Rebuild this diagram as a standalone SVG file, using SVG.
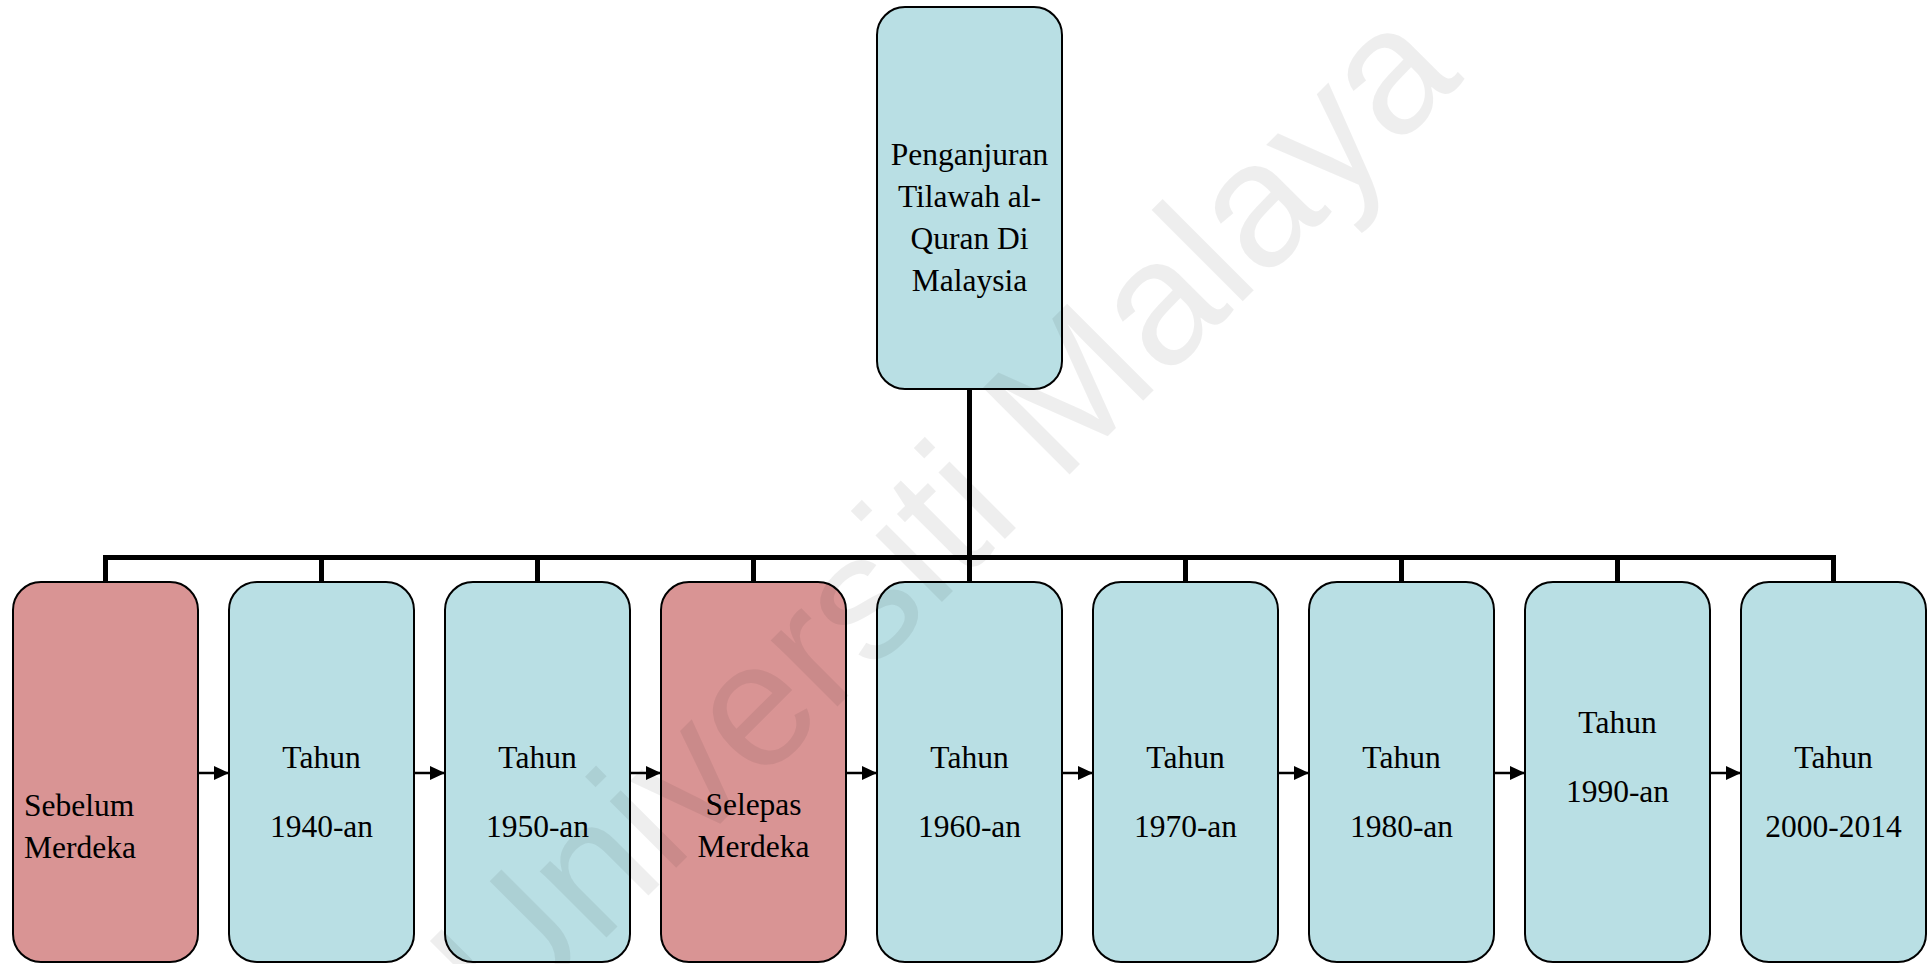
<svg xmlns="http://www.w3.org/2000/svg" width="1932" height="964" viewBox="0 0 1932 964">
<style>
.box{stroke:#000;stroke-width:2}
.blue{fill:#B9DFE4}
.pink{fill:#D99494}
.conn{fill:none;stroke:#000;stroke-width:5;stroke-linejoin:miter;stroke-linecap:butt}
.arr{fill:none;stroke:#000;stroke-width:2.5}
</style>
<defs>
<marker id="ah" viewBox="0 0 15 14" refX="15" refY="7" markerWidth="15" markerHeight="14" markerUnits="userSpaceOnUse" orient="auto">
<path d="M0,0 L15,7 L0,14 Z" fill="#000"/>
</marker>
</defs>
<rect width="1932" height="964" fill="#fff"/>
<g id="connectors">
<path class="conn" d="M969.5,389 V557.5 M105.5,582 V557.5 H1833.5 V582 M321.5,557.5 V582 M537.5,557.5 V582 M753.5,557.5 V582 M969.5,557.5 V582 M1185.5,557.5 V582 M1401.5,557.5 V582 M1617.5,557.5 V582"/>
<path class="arr" marker-end="url(#ah)" d="M198,773 H229"/>
<path class="arr" marker-end="url(#ah)" d="M414,773 H445"/>
<path class="arr" marker-end="url(#ah)" d="M630,773 H661"/>
<path class="arr" marker-end="url(#ah)" d="M846,773 H877"/>
<path class="arr" marker-end="url(#ah)" d="M1062,773 H1093"/>
<path class="arr" marker-end="url(#ah)" d="M1278,773 H1309"/>
<path class="arr" marker-end="url(#ah)" d="M1494,773 H1525"/>
<path class="arr" marker-end="url(#ah)" d="M1710,773 H1741"/>
</g>
<g id="nodes" font-family="'Liberation Serif', 'Times New Roman', Tinos, 'DejaVu Serif', serif" font-size="31.5" fill="#000" text-anchor="middle">
<g id="root">
<rect class="box blue" x="877" y="7" width="185" height="382" rx="28"/>
<text x="969.5" y="165">Penganjuran</text>
<text x="969.5" y="207">Tilawah al-</text>
<text x="969.5" y="249">Quran Di</text>
<text x="969.5" y="291">Malaysia</text>
</g>
<g id="n1">
<rect class="box pink" x="13" y="582" width="185" height="380" rx="28"/>
<text x="24" y="816" text-anchor="start">Sebelum</text>
<text x="24" y="858" text-anchor="start">Merdeka</text>
</g>
<g id="n2">
<rect class="box blue" x="229" y="582" width="185" height="380" rx="28"/>
<text x="321.5" y="768">Tahun</text>
<text x="321.5" y="837">1940-an</text>
</g>
<g id="n3">
<rect class="box blue" x="445" y="582" width="185" height="380" rx="28"/>
<text x="537.5" y="768">Tahun</text>
<text x="537.5" y="837">1950-an</text>
</g>
<g id="n4">
<rect class="box pink" x="661" y="582" width="185" height="380" rx="28"/>
<text x="753.5" y="815">Selepas</text>
<text x="753.5" y="857">Merdeka</text>
</g>
<g id="n5">
<rect class="box blue" x="877" y="582" width="185" height="380" rx="28"/>
<text x="969.5" y="768">Tahun</text>
<text x="969.5" y="837">1960-an</text>
</g>
<g id="n6">
<rect class="box blue" x="1093" y="582" width="185" height="380" rx="28"/>
<text x="1185.5" y="768">Tahun</text>
<text x="1185.5" y="837">1970-an</text>
</g>
<g id="n7">
<rect class="box blue" x="1309" y="582" width="185" height="380" rx="28"/>
<text x="1401.5" y="768">Tahun</text>
<text x="1401.5" y="837">1980-an</text>
</g>
<g id="n8">
<rect class="box blue" x="1525" y="582" width="185" height="380" rx="28"/>
<text x="1617.5" y="733">Tahun</text>
<text x="1617.5" y="802">1990-an</text>
</g>
<g id="n9">
<rect class="box blue" x="1741" y="582" width="185" height="380" rx="28"/>
<text x="1833.5" y="768">Tahun</text>
<text x="1833.5" y="837">2000-2014</text>
</g>
</g>
<text x="986" y="558" transform="rotate(-45 986 558)" font-family="'Liberation Sans', Arial, sans-serif" font-size="178" fill="#000" fill-opacity="0.065" text-anchor="middle">Universiti Malaya</text>
</svg>
